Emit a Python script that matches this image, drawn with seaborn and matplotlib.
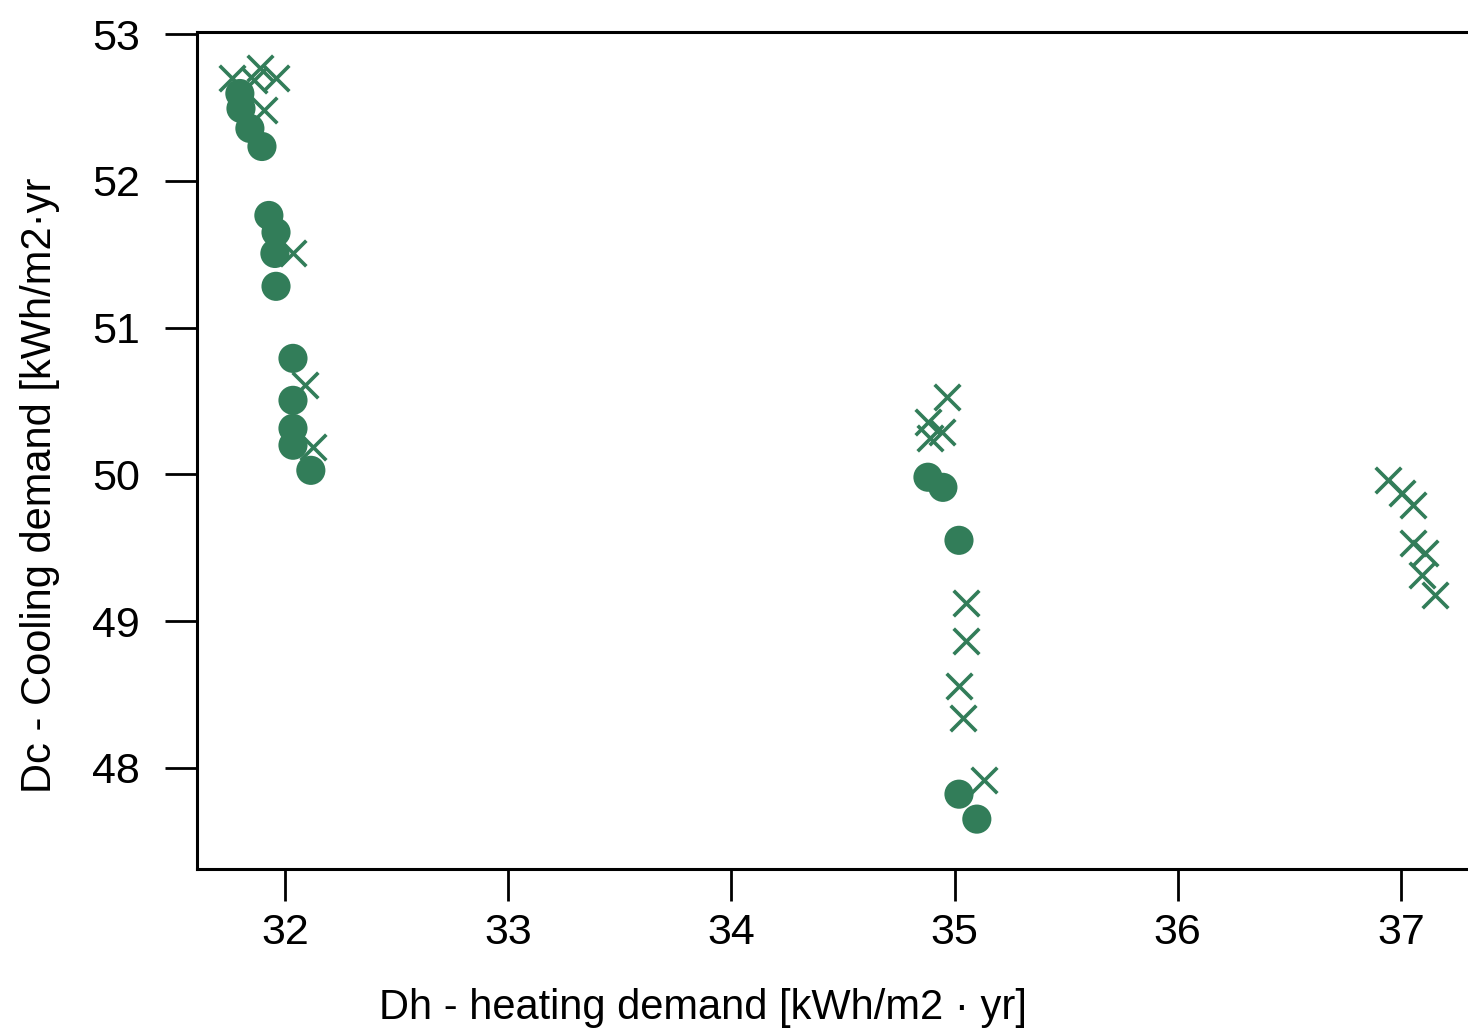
import matplotlib
matplotlib.use("Agg")
import matplotlib.pyplot as plt
import seaborn as sns
import pandas as pd

# Heating / cooling demand of the simulated variants
dh_circle = [31.798, 31.803, 31.843, 31.897, 31.928, 31.960, 31.955, 31.960, 32.036,
             32.036, 32.036, 32.036, 32.116, 34.881, 34.948, 35.020, 35.020, 35.100]
dc_circle = [52.595, 52.493, 52.357, 52.234, 51.764, 51.649, 51.505, 51.281, 50.790,
             50.504, 50.313, 50.198, 50.027, 49.980, 49.911, 49.550, 47.820, 47.650]

dh_cross = [31.763, 31.888, 31.861, 31.960, 31.906, 32.036, 32.090, 32.125,
            34.966, 34.881, 34.944, 34.890, 35.051, 35.051, 35.020, 35.038, 35.132,
            36.942, 37.004, 37.054, 37.054, 37.108, 37.095, 37.152]
dc_cross = [52.698, 52.766, 52.684, 52.704, 52.480, 51.505, 50.606, 50.184,
            50.525, 50.354, 50.286, 50.245, 49.121, 48.862, 48.556, 48.338, 47.916,
            49.959, 49.871, 49.789, 49.530, 49.462, 49.312, 49.176]

x_ticks = [32, 33, 34, 35, 36, 37]
y_ticks = [48, 49, 50, 51, 52, 53]

xlabel = "Dh - heating demand [kWh/m2 \u00b7 yr]"
ylabel = "Dc - Cooling demand [kWh/m2\u00b7yr"

green = "#327d59"

sns.set_style("ticks")
plt.rcParams["font.family"] = ["Liberation Sans", "DejaVu Sans"]
plt.rcParams["text.color"] = "black"
plt.rcParams["axes.labelcolor"] = "black"

df_circle = pd.DataFrame({"dh": dh_circle, "dc": dc_circle})
df_cross = pd.DataFrame({"dh": dh_cross, "dc": dc_cross})

fig = plt.figure(figsize=(14.68, 10.30), dpi=100)
ax = fig.add_axes([0.1342, 0.1563, 0.8733, 0.8126])

sns.scatterplot(data=df_cross, x="dh", y="dc", marker="x", s=340, color=green,
                linewidth=2.6, ax=ax, zorder=3)
sns.scatterplot(data=df_circle, x="dh", y="dc", marker="o", s=440, color=green,
                edgecolor="none", linewidth=0, ax=ax, zorder=4)

ax.set_xlim(31.606, 37.35)
ax.set_ylim(47.31, 53.014)
ax.set_xticks(x_ticks)
ax.set_yticks(y_ticks)
ax.tick_params(axis="both", direction="out", length=23, width=2.0,
               labelsize=31, colors="black", labelcolor="black")
ax.tick_params(axis="x", pad=9)
ax.tick_params(axis="y", pad=18)
for sp in ax.spines.values():
    sp.set_visible(True)
    sp.set_linewidth(2.2)
    sp.set_color("black")

ax.set_xlabel(xlabel, fontsize=30, color="black")
ax.set_ylabel(ylabel, fontsize=30, color="black")
ax.xaxis.set_label_coords(0.395, -0.142)
ax.yaxis.set_label_coords(-0.107, 0.459)

fig.savefig("out.png", dpi=100, facecolor="white")
